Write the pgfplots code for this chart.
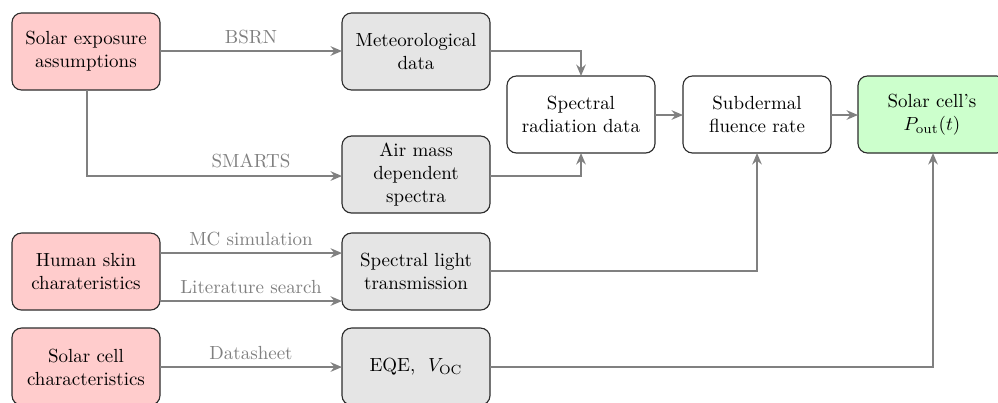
\documentclass[border=0pt]{standalone}
\usepackage{pgfplots}
\pgfplotsset{compat=1.18}
\usetikzlibrary{arrows.meta}
\definecolor{boxred}{RGB}{255,204,204}
\definecolor{boxgray}{RGB}{229,229,229}
\definecolor{boxgreen}{RGB}{204,255,204}
\definecolor{arrowgray}{RGB}{128,128,128}
\definecolor{edge}{RGB}{45,45,45}
\begin{document}
\begin{tikzpicture}
\begin{axis}[
  scale only axis, width=526pt, height=211.9pt,
  xmin=0, xmax=998, ymin=0, ymax=402, y dir=reverse,
  hide axis, clip=true,
]
\addplot[draw=none] coordinates {(0,0) (998,402)};
% boxes
\tikzset{box/.style={draw=edge, line width=0.6pt, rounded corners=5pt}}
\draw[box, fill=boxred]   (axis cs:12,13)  rectangle (axis cs:160,90);
\draw[box, fill=boxgray]  (axis cs:342,13) rectangle (axis cs:490,90);
\draw[box, fill=boxgray]  (axis cs:342,136) rectangle (axis cs:490,213);
\draw[box, fill=white]    (axis cs:507,76) rectangle (axis cs:655,153);
\draw[box, fill=white]    (axis cs:683,76) rectangle (axis cs:831,153);
\draw[box, fill=boxgreen] (axis cs:858,76) rectangle (axis cs:1006,153);
\draw[box, fill=boxred]   (axis cs:12,233) rectangle (axis cs:160,310);
\draw[box, fill=boxgray]  (axis cs:342,233) rectangle (axis cs:490,310);
\draw[box, fill=boxred]   (axis cs:12,328) rectangle (axis cs:160,405);
\draw[box, fill=boxgray]  (axis cs:342,328) rectangle (axis cs:490,405);
% box texts
\tikzset{txt/.style={align=center, text=black, inner sep=0pt}}
\node[txt] at (axis cs:86,51.5)   {Solar exposure\\assumptions};
\node[txt] at (axis cs:416,51.5)  {Meteorological\\data};
\node[txt] at (axis cs:416,174.5) {Air mass\\dependent\\spectra};
\node[txt] at (axis cs:581,114.5) {Spectral\\radiation data};
\node[txt] at (axis cs:757,114.5) {Subdermal\\fluence rate};
\node[txt] at (axis cs:932,114.5) {Solar cell's\\$P_{\mathrm{out}}(t)$};
\node[txt] at (axis cs:86,271.5)  {Human skin\\charateristics};
\node[txt] at (axis cs:416,271.5) {Spectral light\\transmission};
\node[txt] at (axis cs:86,367)    {Solar cell\\characteristics};
\node[txt] at (axis cs:416,367)   {EQE,\ \ $V_{\mathrm{OC}}$};
% arrows
\tikzset{arr/.style={draw=arrowgray, line width=1.5pt, -{Stealth[length=6pt,width=5pt]}}}
\draw[arr] (axis cs:160,51) -- (axis cs:342,51);
\draw[arr] (axis cs:87,90) -- (axis cs:87,176) -- (axis cs:342,176);
\draw[arr] (axis cs:490,51) -- (axis cs:581,51) -- (axis cs:581,76);
\draw[arr] (axis cs:490,176) -- (axis cs:581,176) -- (axis cs:581,153);
\draw[arr] (axis cs:655,115) -- (axis cs:683,115);
\draw[arr] (axis cs:831,115) -- (axis cs:858,115);
\draw[arr] (axis cs:160,253) -- (axis cs:342,253);
\draw[arr] (axis cs:160,301) -- (axis cs:342,301);
\draw[arr] (axis cs:490,271) -- (axis cs:757,271) -- (axis cs:757,153);
\draw[arr] (axis cs:160,367) -- (axis cs:342,367);
\draw[arr] (axis cs:490,367) -- (axis cs:933,367) -- (axis cs:933,153);
% edge labels
\tikzset{lab/.style={text=arrowgray, inner sep=0pt, anchor=base}}
\node[lab] at (axis cs:251,43)  {BSRN};
\node[lab] at (axis cs:251,167) {SMARTS};
\node[lab] at (axis cs:251,245) {MC simulation};
\node[lab] at (axis cs:251,293) {Literature search};
\node[lab] at (axis cs:251,359) {Datasheet};
\end{axis}
\pgfresetboundingbox
\path (current axis.south west) rectangle (current axis.north east);
\end{tikzpicture}
\end{document}
